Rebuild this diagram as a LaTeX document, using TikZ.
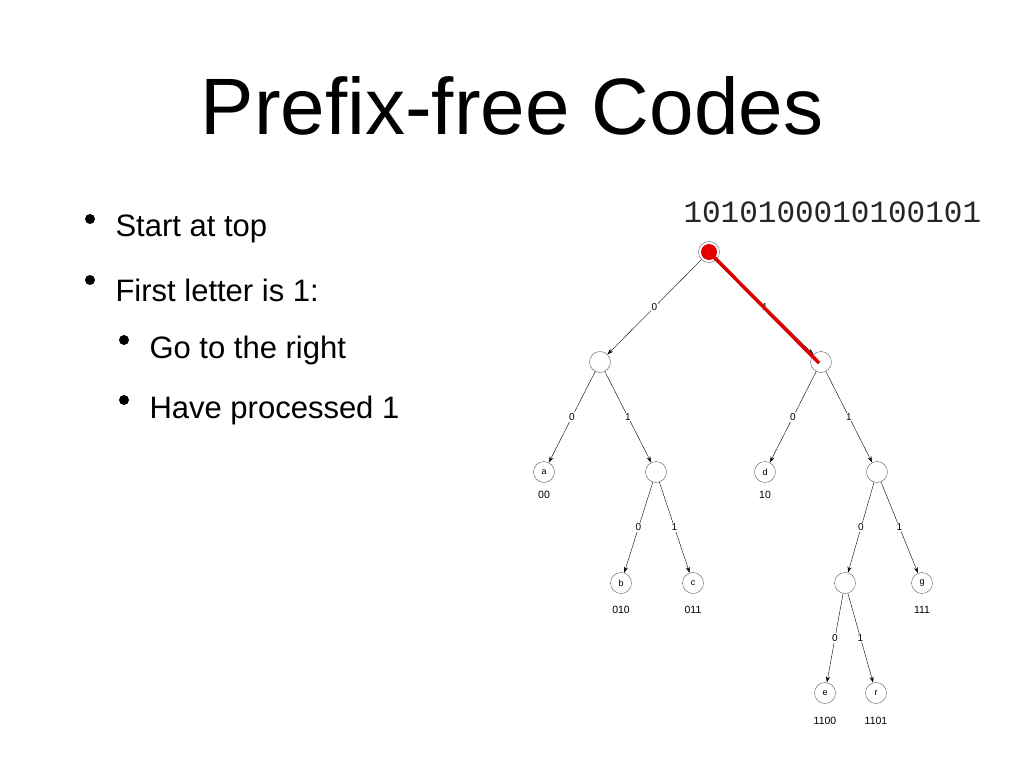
\documentclass[tikz,border=0pt]{standalone}
\usepackage{fontspec}
\setmainfont{Liberation Sans}
\newfontfamily\monof{Liberation Mono}
\usetikzlibrary{arrows.meta}
\begin{document}
\begin{tikzpicture}[x=1pt,y=-1pt,
 nd/.style={circle,draw,gray!70!black,thin,minimum size=21pt,inner sep=0pt,text=black,font=\fontsize{9}{9}\selectfont},
 ed/.style={-{Stealth[length=6pt,width=4pt]},thin,black},
 el/.style={fill=white,inner sep=1pt,font=\fontsize{10}{10}\selectfont},
 cd/.style={font=\fontsize{10.5}{10.5}\selectfont},
 bul/.style={anchor=west,font=\fontsize{31}{31}\selectfont}]
\useasboundingbox (0,0) rectangle (1024,768);
\node (title) at (512,106) {\fontsize{80}{80}\selectfont Prefix-free Codes};
\node[anchor=west,font=\monof\fontsize{31}{31}\selectfont,text=black!85] (bits) at (680,212) {1010100010100101};
\node[bul] (t1) at (112,229) {Start at top};
\node[bul] (t2) at (112,290) {First letter is 1:};
\node[bul] (t3) at (146,350) {Go to the right};
\node[bul] (t4) at (146,410) {Have processed 1};
\foreach \y in {219,280}{\fill (90,\y) circle (5pt);}
\foreach \y in {340,400}{\fill (124,\y) circle (5pt);}
\node[nd] (root) at (709,252) {};
\node[nd] (L) at (600,362) {};
\node[nd] (R) at (821,362) {};
\node[nd] (a) at (544,472) {a};
\node[nd] (n) at (656,472) {};
\node[nd] (d) at (765,472) {d};
\node[nd] (m) at (877,472) {};
\node[nd] (b) at (621,583) {b};
\node[nd] (c) at (693,583) {c};
\node[nd] (k) at (845,583) {};
\node[nd] (g) at (922,583) {g};
\node[nd] (e) at (825,693) {e};
\node[nd] (r) at (876,693) {r};
\foreach \p/\q/\l in {root/L/0,root/R/1,L/a/0,L/n/1,R/d/0,R/m/1,n/b/0,n/c/1,m/k/0,m/g/1,k/e/0,k/r/1}
  \draw[ed] (\p) -- node[el]{\l} (\q);
\node[cd] at (544,495) {00};
\node[cd] at (765,495) {10};
\node[cd] at (621,610) {010};
\node[cd] at (693,610) {011};
\node[cd] at (922,610) {111};
\node[cd] at (825,721) {1100};
\node[cd] at (876,721) {1101};
\coordinate (hit) at (819,363);
\draw[red!85!black,line width=3.5pt] (root.center) -- (hit);
\fill[red!90!black] (root.center) circle (8pt);
\end{tikzpicture}
\end{document}
